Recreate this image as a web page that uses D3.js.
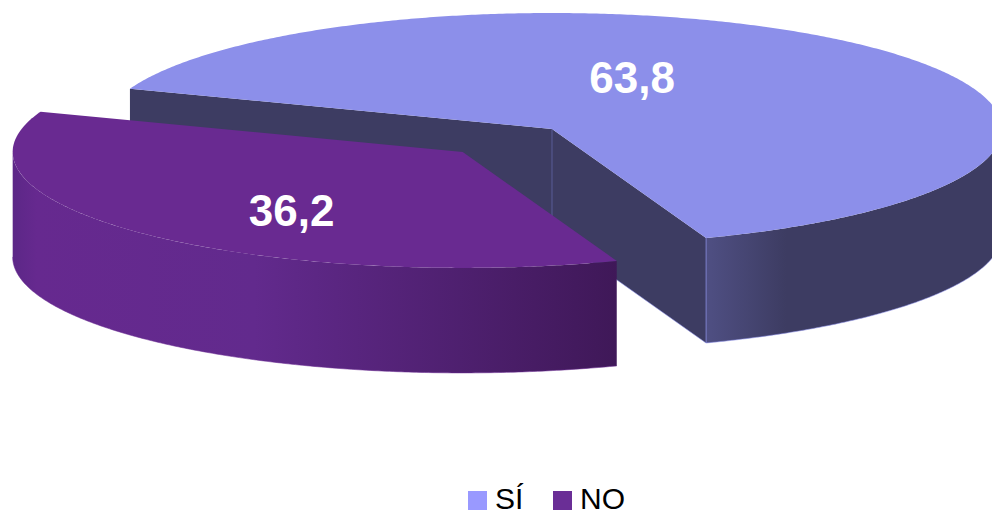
<!DOCTYPE html>
<html>
<head>
<meta charset="utf-8">
<script src="https://cdn.jsdelivr.net/npm/d3@7/dist/d3.min.js"></script>
<style>
  html, body { margin: 0; padding: 0; background: #ffffff; }
  svg { display: block; }
</style>
</head>
<body>
<svg id="chart" width="992" height="516"></svg>
<script>
// Survey answers (percent)
const categories = ["SÍ", "NO"];
const values = [63.8, 36.2];

// Slice colours: top face, side face (light end), side face (dark end), legend swatch
const topColors = ["#8c8fea", "#692a91"];
const sideLight = ["#4f4f83", "#66298f"];
const sideDark = ["#3d3c62", "#3f1858"];
const radialColors = ["#3d3c62", "#4a1f6a"];
const swatchColors = ["#9999ff", "#6a2e96"];

// Geometry of the tilted pie
const W = 992, H = 516;
const rx = 450, ry = 116, depth = 105;
const origin = { x: 552, y: 129 };
const explode = [0, 0.28];                 // explosion per slice, in radius units
const labelOffset = [[0.178, -0.44], [-0.38, 0.505]]; // label centre relative to slice apex, in radius units

const svg = d3.select("#chart");
const defs = svg.append("defs");

const fmt = d3.formatLocale({ decimal: ",", thousands: ".", grouping: [3], currency: ["", ""] }).format(".1f");

// d3.pie angles: 0 at 12 o'clock, clockwise. Screen parameter t = a - PI/2.
const pie = d3.pie().sort(null).value(d => d)
  .startAngle(290.3 * Math.PI / 180)
  .endAngle(290.3 * Math.PI / 180 + 2 * Math.PI);
const arcs = pie(values);

const line = d3.line();
const toT = a => a - Math.PI / 2;

function centerOf(i) {
  const a = arcs[i];
  const mid = toT((a.startAngle + a.endAngle) / 2);
  return {
    x: origin.x + explode[i] * rx * Math.cos(mid),
    y: origin.y + explode[i] * ry * Math.sin(mid)
  };
}
function pt(c, t, dz) {
  return [c.x + rx * Math.cos(t), c.y + ry * Math.sin(t) + dz];
}
function arcPoints(c, t0, t1, dz) {
  const n = Math.max(2, Math.ceil(Math.abs(t1 - t0) / (Math.PI / 360)));
  return d3.range(n + 1).map(k => pt(c, t0 + (t1 - t0) * k / n, dz));
}

// Gradients for the curved side walls
arcs.forEach((a, i) => {
  const g = defs.append("linearGradient")
    .attr("id", "side" + i)
    .attr("gradientUnits", "userSpaceOnUse");
  const c = centerOf(i);
  if (i === 0) {
    const xs = pt(c, toT(a.endAngle), 0)[0];
    g.attr("x1", xs).attr("x2", W).attr("y1", 0).attr("y2", 0);
    g.append("stop").attr("offset", 0).attr("stop-color", sideLight[i]);
    g.append("stop").attr("offset", 0.28).attr("stop-color", sideDark[i]);
    g.append("stop").attr("offset", 1).attr("stop-color", sideDark[i]);
  } else {
    g.attr("x1", c.x - rx).attr("x2", pt(c, toT(a.startAngle), 0)[0]).attr("y1", 0).attr("y2", 0);
    g.append("stop").attr("offset", 0).attr("stop-color", "#5c2787");
    g.append("stop").attr("offset", 0.04).attr("stop-color", sideLight[i]);
    g.append("stop").attr("offset", 0.4).attr("stop-color", "#622a8d");
    g.append("stop").attr("offset", 1).attr("stop-color", sideDark[i]);
  }
});

const layer = svg.append("g");

arcs.forEach((a, i) => {
  const c = centerOf(i);
  const t0 = toT(a.startAngle), t1 = toT(a.endAngle);
  const g = layer.append("g").attr("class", "slice slice-" + i);

  // Radial walls (only visible for the back slice)
  if (i === 0) {
    [t0, t1].forEach(t => {
      const p = pt(c, t, 0);
      g.append("path")
        .attr("d", line([[c.x, c.y], p, [p[0], p[1] + depth], [c.x, c.y + depth]]) + "Z")
        .attr("fill", radialColors[i]);
    });
  }

  // Curved outer wall: the front-facing part of the arc (sin t >= 0)
  const ranges = [];
  for (let k = -2; k <= 2; k++) {
    const lo = Math.max(t0, k * 2 * Math.PI), hi = Math.min(t1, k * 2 * Math.PI + Math.PI);
    if (hi > lo) ranges.push([lo, hi]);
  }
  ranges.forEach(([lo, hi]) => {
    const topPts = arcPoints(c, lo, hi, 0);
    const botPts = arcPoints(c, hi, lo, depth);
    g.append("path")
      .attr("d", line(topPts.concat(botPts)) + "Z")
      .attr("fill", "url(#side" + i + ")");
    g.append("path")
      .attr("d", line(arcPoints(c, lo, hi, depth)))
      .attr("fill", "none")
      .attr("stroke", topColors[i])
      .attr("stroke-opacity", 0.55)
      .attr("stroke-width", 1);
  });

  if (i === 0) {
    // edge highlights along the vertical corners
    const pe = pt(c, t1, 0);
    g.append("line")
      .attr("x1", pe[0]).attr("y1", pe[1]).attr("x2", pe[0]).attr("y2", pe[1] + depth)
      .attr("stroke", "#8c8fea").attr("stroke-opacity", 0.7).attr("stroke-width", 1);
    g.append("line")
      .attr("x1", c.x).attr("y1", c.y).attr("x2", c.x).attr("y2", c.y + depth)
      .attr("stroke", "#55578f").attr("stroke-width", 1.2);
    // bottom edge of the right radial wall
    const pb = pt(c, t1, depth);
    g.append("line")
      .attr("x1", c.x).attr("y1", c.y + depth).attr("x2", pb[0]).attr("y2", pb[1])
      .attr("stroke", "#8c8fea").attr("stroke-opacity", 0.55).attr("stroke-width", 1);
  }

  // Top face
  const topPts = [[c.x, c.y]].concat(arcPoints(c, t0, t1, 0));
  g.append("path")
    .attr("d", line(topPts) + "Z")
    .attr("fill", topColors[i]);
});

// Value labels
arcs.forEach((a, i) => {
  const c = centerOf(i);
  layer.append("text")
    .attr("x", c.x + labelOffset[i][0] * rx)
    .attr("y", c.y + labelOffset[i][1] * ry)
    .attr("text-anchor", "middle")
    .attr("dominant-baseline", "central")
    .attr("font-family", "Liberation Sans, Arial, sans-serif")
    .attr("font-weight", "bold")
    .attr("font-size", 44)
    .attr("fill", "#ffffff")
    .text(fmt(a.data));
});

// Legend
const legend = svg.append("g").attr("class", "legend");
const legendX = [468, 553];
categories.forEach((cat, i) => {
  const item = legend.append("g").attr("transform", `translate(${legendX[i]},0)`);
  item.append("rect")
    .attr("x", 0).attr("y", 491).attr("width", 19).attr("height", 19)
    .attr("fill", swatchColors[i]);
  item.append("text")
    .attr("x", 27).attr("y", 509)
    .attr("font-family", "Liberation Sans, Arial, sans-serif")
    .attr("font-size", 30)
    .attr("fill", "#000000")
    .text(cat);
});
</script>
</body>
</html>
